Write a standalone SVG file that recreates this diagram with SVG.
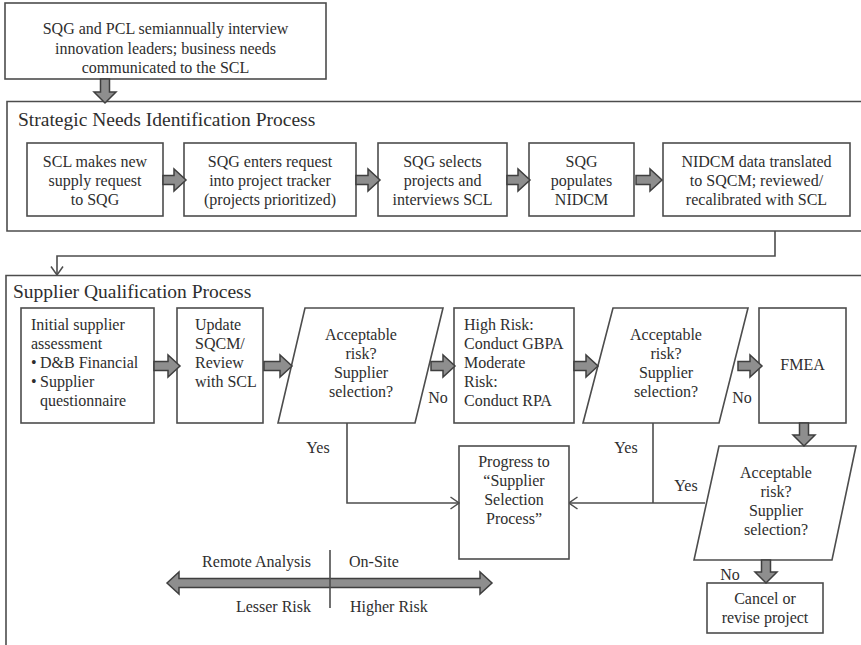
<svg xmlns="http://www.w3.org/2000/svg" width="861" height="645" viewBox="0 0 861 645">
  <style>
    .box { fill: #fff; stroke: #4d4d4d; stroke-width: 1.6; }
    .frame { fill: none; stroke: #4d4d4d; stroke-width: 1.6; }
    .line { fill: none; stroke: #4d4d4d; stroke-width: 1.6; }
    .block { fill: #8e8e8e; stroke: #3f3f3f; stroke-width: 1.5; stroke-linejoin: miter; }
    text { font-family: "Liberation Serif", "DejaVu Serif", serif; fill: #2e2e2e; font-size: 16px; }
    .c { text-anchor: middle; }
    .e { text-anchor: end; }
    .title { font-size: 19.5px; }
  </style>
  <defs>
    <marker id="open" viewBox="0 0 10 14" refX="9.5" refY="7" markerWidth="10" markerHeight="14" markerUnits="userSpaceOnUse" orient="auto">
      <path d="M1,1 L9.5,7 L1,13" fill="none" stroke="#4d4d4d" stroke-width="1.5"/>
    </marker>
  </defs>

  <!-- process frames -->
  <g id="frame-strategic">
    <path class="frame" d="M862,101.5 H7 V231 H862"/>
    <text class="title" x="18" y="126">Strategic Needs Identification Process</text>
  </g>
  <g id="frame-qualification">
    <path class="frame" d="M862,275.5 H6 V646"/>
    <text class="title" x="13" y="298">Supplier Qualification Process</text>
  </g>

  <!-- intake -->
  <g id="n-interview">
    <rect class="box" x="5" y="3" width="321" height="76"/>
    <text class="c" x="165.5" y="34">SQG and PCL semiannually interview</text>
    <text class="c" x="165.5" y="53.5">innovation leaders; business needs</text>
    <text class="c" x="165.5" y="73">communicated to the SCL</text>
  </g>

  <!-- strategic needs row -->
  <g id="n-request">
    <rect class="box" x="27" y="143" width="136" height="73"/>
    <text class="c" x="95" y="167">SCL makes new</text>
    <text class="c" x="95" y="186">supply request</text>
    <text class="c" x="95" y="205">to SQG</text>
  </g>
  <g id="n-tracker">
    <rect class="box" x="184" y="143" width="172" height="73"/>
    <text class="c" x="270" y="167">SQG enters request</text>
    <text class="c" x="270" y="186">into project tracker</text>
    <text class="c" x="270" y="205">(projects prioritized)</text>
  </g>
  <g id="n-select">
    <rect class="box" x="378" y="143" width="129" height="73"/>
    <text class="c" x="442.5" y="167">SQG selects</text>
    <text class="c" x="442.5" y="186">projects and</text>
    <text class="c" x="442.5" y="205">interviews SCL</text>
  </g>
  <g id="n-nidcm">
    <rect class="box" x="529" y="143" width="105" height="73"/>
    <text class="c" x="581.5" y="167">SQG</text>
    <text class="c" x="581.5" y="186">populates</text>
    <text class="c" x="581.5" y="205">NIDCM</text>
  </g>
  <g id="n-translate">
    <rect class="box" x="663" y="143" width="187" height="73"/>
    <text class="c" x="756.5" y="167">NIDCM data translated</text>
    <text class="c" x="756.5" y="186">to SQCM; reviewed/</text>
    <text class="c" x="756.5" y="205">recalibrated with SCL</text>
  </g>

  <!-- supplier qualification row -->
  <g id="n-initial">
    <rect class="box" x="21" y="308" width="133" height="115"/>
    <text x="31" y="330">Initial supplier</text>
    <text x="31" y="349">assessment</text>
    <text x="31" y="368">•</text>
    <text x="40" y="368">D&amp;B Financial</text>
    <text x="31" y="387">•</text>
    <text x="40" y="387">Supplier</text>
    <text x="40" y="406">questionnaire</text>
  </g>
  <g id="n-update">
    <rect class="box" x="177" y="308" width="86" height="115"/>
    <text x="195" y="330">Update</text>
    <text x="195" y="349">SQCM/</text>
    <text x="195" y="368">Review</text>
    <text x="195" y="387">with SCL</text>
  </g>
  <g id="n-decision1">
    <polygon class="box" points="305,308 443,308 415,423 278,423"/>
    <text class="c" x="361" y="340">Acceptable</text>
    <text class="c" x="361" y="359">risk?</text>
    <text class="c" x="361" y="378">Supplier</text>
    <text class="c" x="361" y="397">selection?</text>
  </g>
  <g id="n-risk">
    <rect class="box" x="454" y="308" width="120" height="115"/>
    <text x="464" y="330">High Risk:</text>
    <text x="464" y="349">Conduct GBPA</text>
    <text x="464" y="368">Moderate</text>
    <text x="464" y="387">Risk:</text>
    <text x="464" y="406">Conduct RPA</text>
  </g>
  <g id="n-decision2">
    <polygon class="box" points="613,308 748,308 719,423 583,423"/>
    <text class="c" x="666" y="340">Acceptable</text>
    <text class="c" x="666" y="359">risk?</text>
    <text class="c" x="666" y="378">Supplier</text>
    <text class="c" x="666" y="397">selection?</text>
  </g>
  <g id="n-fmea">
    <rect class="box" x="759" y="308" width="87" height="115"/>
    <text class="c" x="802.5" y="370">FMEA</text>
  </g>
  <g id="n-progress">
    <rect class="box" x="459" y="446" width="110" height="113"/>
    <text class="c" x="514" y="467">Progress to</text>
    <text class="c" x="514" y="486">“Supplier</text>
    <text class="c" x="514" y="505">Selection</text>
    <text class="c" x="514" y="524">Process”</text>
  </g>
  <g id="n-decision3">
    <polygon class="box" points="719,446 856,446 832,560 694,560"/>
    <text class="c" x="776" y="478">Acceptable</text>
    <text class="c" x="776" y="497">risk?</text>
    <text class="c" x="776" y="516">Supplier</text>
    <text class="c" x="776" y="535">selection?</text>
  </g>
  <g id="n-cancel">
    <rect class="box" x="707" y="583" width="116" height="50"/>
    <text class="c" x="765" y="604">Cancel or</text>
    <text class="c" x="765" y="623">revise project</text>
  </g>

  <!-- risk scale -->
  <g id="n-scale">
    <polygon class="block" points="167,583 179,572 179,578.5 480,578.5 480,572 492,583 480,594 480,587.5 179,587.5 179,594"/>
    <line class="line" x1="330" y1="550" x2="330" y2="608"/>
    <text class="e" x="311" y="567">Remote Analysis</text>
    <text x="349" y="567">On-Site</text>
    <text class="e" x="311" y="612">Lesser Risk</text>
    <text x="350" y="612">Higher Risk</text>
  </g>

  <!-- connectors -->
  <g id="connectors">
    <!-- block arrows -->
    <polygon class="block" points="100.5,79 109.5,79 109.5,92 116,92 105,103 94,92 100.5,92"/>
    <polygon class="block" points="163,175.5 174,175.5 174,169 186,180 174,191 174,184.5 163,184.5"/>
    <polygon class="block" points="356,175.5 368,175.5 368,169 380,180 368,191 368,184.5 356,184.5"/>
    <polygon class="block" points="507,175.5 518,175.5 518,169 530,180 518,191 518,184.5 507,184.5"/>
    <polygon class="block" points="636,175.5 650,175.5 650,169 662,180 650,191 650,184.5 636,184.5"/>
    <polygon class="block" points="154,361.5 168,361.5 168,355 180,366 168,377 168,370.5 154,370.5"/>
    <polygon class="block" points="264,361.5 280,361.5 280,355 292,366 280,377 280,370.5 264,370.5"/>
    <polygon class="block" points="431,361.5 443,361.5 443,355 455,366 443,377 443,370.5 431,370.5"/>
    <polygon class="block" points="574,361.5 586,361.5 586,355 598,366 586,377 586,370.5 574,370.5"/>
    <polygon class="block" points="738,361.5 750,361.5 750,355 762,366 750,377 750,370.5 738,370.5"/>
    <polygon class="block" points="799.5,423 808.5,423 808.5,435 815,435 804,446 793,435 799.5,435"/>
    <polygon class="block" points="761.5,560 770.5,560 770.5,572 777,572 766,583 755,572 761.5,572"/>

    <!-- line connectors -->
    <polyline class="line" points="775,231 775,256 57,256 57,275" marker-end="url(#open)"/>
    <polyline class="line" points="347,423 347,503 459,503" marker-end="url(#open)"/>
    <line class="line" x1="653" y1="423" x2="653" y2="503"/>
    <line class="line" x1="705" y1="503" x2="569" y2="503" marker-end="url(#open)"/>

    <!-- labels -->
    <text class="c" x="438" y="403">No</text>
    <text class="c" x="742" y="403">No</text>
    <text class="c" x="318" y="453">Yes</text>
    <text class="c" x="626" y="453">Yes</text>
    <text class="c" x="686" y="491">Yes</text>
    <text class="c" x="730" y="580">No</text>
  </g>
</svg>
